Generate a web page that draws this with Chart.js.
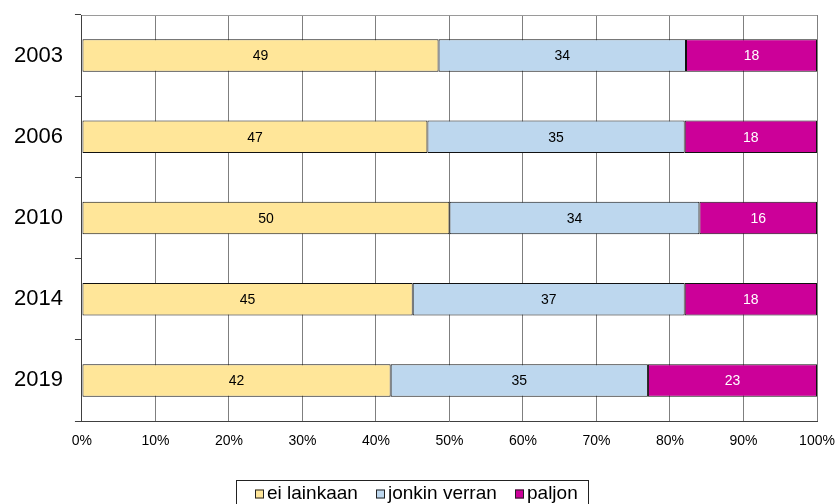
<!DOCTYPE html>
<html>
<head>
<meta charset="utf-8">
<script src="https://cdn.jsdelivr.net/npm/chart.js@4/dist/chart.umd.min.js"></script>
<style>
  html, body { margin: 0; padding: 0; background: #fff; }
  #wrap { width: 836px; height: 504px; }
</style>
</head>
<body>
<div id="wrap"><canvas id="chart" width="836" height="504"></canvas></div>
<script>
const vuodet = ["2003", "2006", "2010", "2014", "2019"];
const eiLainkaan = [49, 47, 50, 45, 42];
const jonkinVerran = [34, 35, 34, 37, 35];
const paljon = [18, 18, 16, 18, 23];
const xTicks = [0, 10, 20, 30, 40, 50, 60, 70, 80, 90, 100];

const FONT = "'Liberation Sans', Arial, sans-serif";

// Excel-tyyli: jokainen palkki skaalataan 100 %:iin
const summat = vuodet.map((v, i) => eiLainkaan[i] + jonkinVerran[i] + paljon[i]);
const osuus = (arr) => arr.map((v, i) => v / summat[i] * 100);

function sarja(label, arvot, color, textColor) {
  return {
    label,
    data: osuus(arvot),
    raw: arvot,
    textColor,
    backgroundColor: color,
    borderColor: "#111",
    borderWidth: 1,
    borderSkipped: false,
    categoryPercentage: 1,
    barPercentage: 0.4
  };
}

const arvoPlugin = {
  id: "arvot",
  afterDatasetsDraw(chart) {
    const ctx = chart.ctx;
    ctx.save();
    ctx.font = "14px " + FONT;
    ctx.textAlign = "center";
    ctx.textBaseline = "middle";
    chart.data.datasets.forEach((ds, di) => {
      chart.getDatasetMeta(di).data.forEach((bar, i) => {
        ctx.fillStyle = ds.textColor;
        ctx.fillText(ds.raw[i], (bar.x + bar.base) / 2, bar.y + 1);
      });
    });
    ctx.restore();
  }
};

const kehysPlugin = {
  id: "kehys",
  beforeDatasetsDraw(chart) {
    const { ctx, chartArea: a } = chart;
    ctx.save();
    ctx.strokeStyle = "#9a9a9a";
    ctx.lineWidth = 1;
    ctx.beginPath();
    ctx.moveTo(a.left, Math.round(a.top) + 0.5);
    ctx.lineTo(a.right, Math.round(a.top) + 0.5);
    ctx.stroke();
    ctx.restore();
  }
};

const selitePlugin = {
  id: "selite",
  afterDraw(chart) {
    const ctx = chart.ctx;
    ctx.save();
    ctx.font = "19px " + FONT;
    const box = 9, gap = 3, vali = 18;
    const leveydet = chart.data.datasets.map(ds => box + gap + ctx.measureText(ds.label).width);
    const sisalto = leveydet.reduce((s, w) => s + w, 0) + vali * (leveydet.length - 1);
    const kehysW = Math.round(sisalto + 30);
    const left = Math.round(412 - kehysW / 2) + 0.5;
    const top = 480.5;
    ctx.strokeStyle = "#222";
    ctx.lineWidth = 1;
    ctx.strokeRect(left, top, kehysW, 40);
    let x = Math.round(left + 18);
    const yKesk = 494;
    ctx.textBaseline = "middle";
    ctx.textAlign = "left";
    chart.data.datasets.forEach((ds, i) => {
      const bx = Math.round(x);
      ctx.fillStyle = ds.backgroundColor;
      ctx.fillRect(bx, yKesk - 4.5, box, box);
      ctx.strokeStyle = "#222";
      ctx.strokeRect(bx + 0.5, yKesk - 4, box - 1, box - 1);
      ctx.fillStyle = "#000";
      ctx.fillText(ds.label, bx + box + gap, yKesk);
      x += leveydet[i] + vali;
    });
    ctx.restore();
  }
};

new Chart(document.getElementById("chart"), {
  type: "bar",
  data: {
    labels: vuodet,
    datasets: [
      sarja("ei lainkaan", eiLainkaan, "#ffe699", "#000"),
      sarja("jonkin verran", jonkinVerran, "#bdd7ee", "#000"),
      sarja("paljon", paljon, "#cc0099", "#fff")
    ]
  },
  options: {
    indexAxis: "y",
    responsive: false,
    animation: false,
    layout: { padding: { left: 2, right: 19, top: 15, bottom: 49 } },
    plugins: {
      legend: { display: false },
      tooltip: { enabled: false }
    },
    scales: {
      x: {
        stacked: true,
        min: 0,
        max: 100,
        afterBuildTicks: (scale) => { scale.ticks = xTicks.map(v => ({ value: v })); },
        afterFit: (scale) => {
          scale.height = 34;
          scale.paddingLeft = 0;
          scale.paddingRight = 0;
        },
        grid: { color: "#7f7f7f", drawTicks: false },
        border: { display: true, color: "#404040" },
        ticks: {
          padding: 12,
          color: "#000",
          font: { family: FONT, size: 14 },
          callback: (v) => v + "%"
        }
      },
      y: {
        stacked: true,
        afterFit: (scale) => {
          scale.paddingTop = 0;
          scale.paddingBottom = 0;
        },
        grid: {
          offset: true,
          drawOnChartArea: false,
          drawTicks: true,
          tickLength: 7,
          color: "#404040"
        },
        border: { display: true, color: "#404040" },
        ticks: {
          padding: 12,
          color: "#000",
          font: { family: FONT, size: 22 }
        }
      }
    }
  },
  plugins: [kehysPlugin, arvoPlugin, selitePlugin]
});
</script>
</body>
</html>
